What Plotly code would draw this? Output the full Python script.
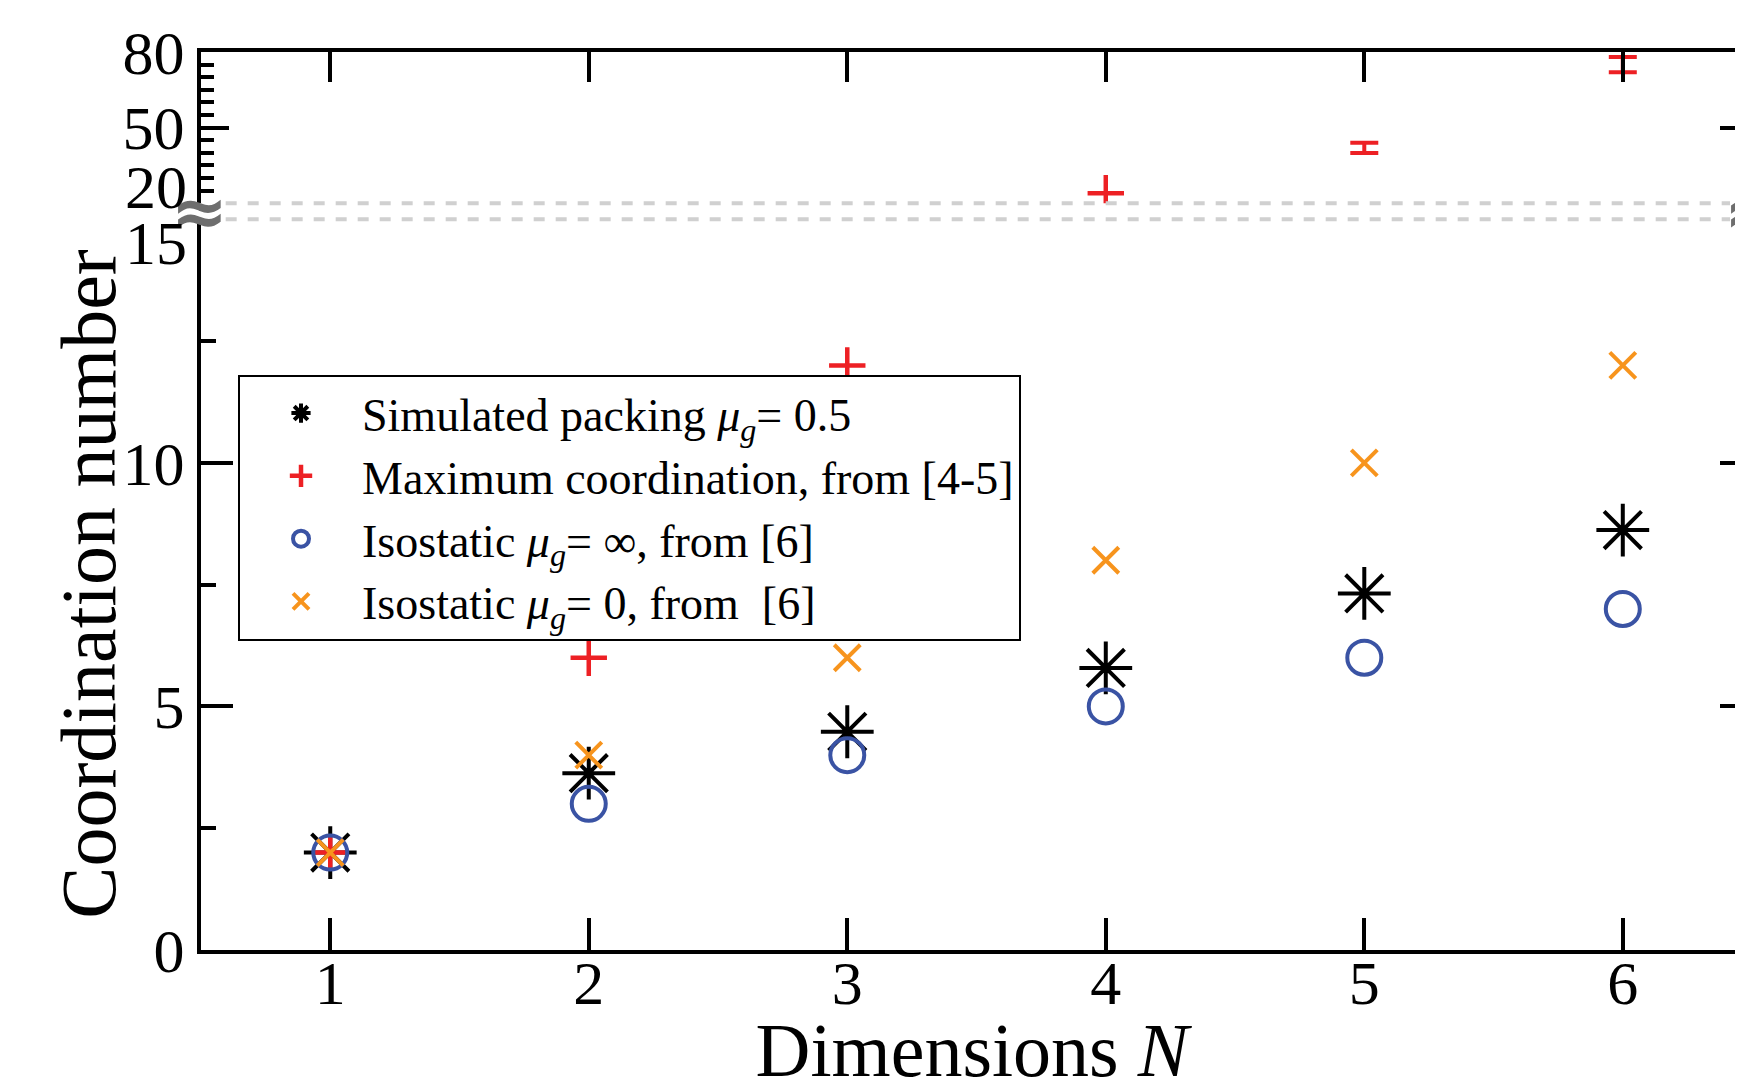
import plotly.graph_objects as go

# ---------------- data ----------------
dims = [1, 2, 3, 4, 5, 6]
sim_packing = [2.0, 3.63, 4.48, 5.79, 7.32, 8.62]          # simulated, mu_g = 0.5
max_coord_lo = [2, 6, 12, 24, 40, 72]                       # max coordination (lower bound)
max_coord_hi = [2, 6, 12, 24, 44, 78]                       # max coordination (upper bound)
iso_inf = [2, 3, 4, 5, 6, 7]                                # isostatic mu_g = inf
iso_zero = [2, 4, 6, 8, 10, 12]                             # isostatic mu_g = 0

lower_ticks = [0, 5, 10]
lower_ticktext = ["0", "5", "10"]
upper_ticks = [50, 80]
upper_ticktext = ["50", "80"]
upper_minor = [25, 30, 35, 40, 45, 55, 60, 65, 70, 75]

# ---------------- style ----------------
FONT = "Liberation Serif"
BLACK = "#000000"
RED = "#ED2024"
BLUE = "#3A53A4"
ORANGE = "#F7941D"
GRAY_DASH = "#D0D0D0"
GRAY_BRK = "#6E6E6E"

# page body has an 8px margin: size the figure so it ends at the window edge
W, H = 1735, 1084
M_L, M_R, M_T, M_B = 193, 0, 44, 142
LOW_TOP = 0.8137
UP_BOT = 0.8315
TICK_FS = 62

fig = go.Figure()

# lower panel traces
fig.add_trace(go.Scatter(
    x=dims, y=sim_packing, mode="markers", xaxis="x", yaxis="y",
    name="Simulated packing <i>μ<sub>g</sub></i>= 0.5",
    marker=dict(symbol="asterisk-open", size=44, color=BLACK,
                line=dict(color=BLACK, width=4)),
))
fig.add_trace(go.Scatter(
    x=dims, y=max_coord_lo, mode="markers", xaxis="x", yaxis="y",
    name="Maximum coordination, from [4-5]",
    marker=dict(symbol="cross-thin-open", size=26, color=RED,
                line=dict(color=RED, width=4.5)),
))
fig.add_trace(go.Scatter(
    x=dims, y=iso_inf, mode="markers", xaxis="x", yaxis="y",
    name="Isostatic <i>μ<sub>g</sub></i>= ∞, from [6]",
    marker=dict(symbol="circle-open", size=34, color=BLUE,
                line=dict(color=BLUE, width=4)),
))
fig.add_trace(go.Scatter(
    x=dims, y=iso_zero, mode="markers", xaxis="x", yaxis="y",
    name="Isostatic <i>μ<sub>g</sub></i>= 0, from  [6]",
    marker=dict(symbol="x-thin-open", size=26, color=ORANGE,
                line=dict(color=ORANGE, width=4)),
))

# upper panel: exact maxima as crosses, ranges as capped bars
exact_x = [n for n, lo, hi in zip(dims, max_coord_lo, max_coord_hi) if lo == hi]
exact_y = [lo for lo, hi in zip(max_coord_lo, max_coord_hi) if lo == hi]
rng_x = [n for n, lo, hi in zip(dims, max_coord_lo, max_coord_hi) if lo != hi]
rng_lo = [lo for lo, hi in zip(max_coord_lo, max_coord_hi) if lo != hi]
rng_len = [hi - lo for lo, hi in zip(max_coord_lo, max_coord_hi) if lo != hi]

fig.add_trace(go.Scatter(
    x=exact_x, y=exact_y, mode="markers", xaxis="x2", yaxis="y2", showlegend=False,
    marker=dict(symbol="cross-thin-open", size=26, color=RED,
                line=dict(color=RED, width=4.5)),
))
fig.add_trace(go.Scatter(
    x=rng_x, y=rng_lo, mode="markers", xaxis="x2", yaxis="y2", showlegend=False,
    marker=dict(size=0.1, color="rgba(0,0,0,0)"),
    error_y=dict(type="data", symmetric=False, array=rng_len,
                 arrayminus=[0] * len(rng_len), color=RED, thickness=4, width=14),
))

# invisible carriers for the right-hand tick axes
fig.add_trace(go.Scatter(x=dims, y=iso_inf, mode="markers", xaxis="x", yaxis="y3",
                         showlegend=False, hoverinfo="skip",
                         marker=dict(opacity=0)))
fig.add_trace(go.Scatter(x=dims, y=max_coord_hi, mode="markers", xaxis="x2", yaxis="y4",
                         showlegend=False, hoverinfo="skip",
                         marker=dict(opacity=0)))

axis_common = dict(showgrid=False, zeroline=False, tickcolor=BLACK,
                   tickfont=dict(family=FONT, size=TICK_FS, color=BLACK))

fig.update_layout(
    width=W, height=H,
    margin=dict(l=M_L, r=M_R, t=M_T, b=M_B),
    paper_bgcolor="white", plot_bgcolor="white",
    font=dict(family=FONT, color=BLACK),
    xaxis=dict(
        domain=[0, 1], range=[0.5, 6.465], anchor="y",
        tickmode="array", tickvals=dims, ticktext=[str(d) for d in dims],
        ticks="inside", ticklen=32, tickwidth=4, ticklabelstandoff=-24,
        showline=True, linewidth=4, linecolor=BLACK,
        title=dict(text="Dimensions <i>N</i>", font=dict(family=FONT, size=76), standoff=6),
        **axis_common,
    ),
    xaxis2=dict(
        matches="x", anchor="y2", side="top",
        tickmode="array", tickvals=dims,
        ticks="inside", ticklen=30, tickwidth=4, showticklabels=False,
        showline=True, linewidth=4, linecolor=BLACK,
        **axis_common,
    ),
    yaxis=dict(
        domain=[0, LOW_TOP], range=[0, 15], anchor="x",
        tickmode="array", tickvals=lower_ticks, ticktext=lower_ticktext,
        ticks="inside", ticklen=32, tickwidth=4,
        minor=dict(tickmode="linear", tick0=0, dtick=2.5, ticks="inside",
                   ticklen=15, tickwidth=4, tickcolor=BLACK),
        showline=True, linewidth=4, linecolor=BLACK,
        **axis_common,
    ),
    yaxis2=dict(
        domain=[UP_BOT, 1], range=[20, 80], anchor="x2",
        tickmode="array", tickvals=upper_ticks, ticktext=upper_ticktext,
        ticks="inside", ticklen=28, tickwidth=4,
        minor=dict(tickmode="array", tickvals=upper_minor, ticks="inside",
                   ticklen=13, tickwidth=4, tickcolor=BLACK),
        showline=True, linewidth=4, linecolor=BLACK,
        **axis_common,
    ),
    yaxis3=dict(
        overlaying="y", matches="y", side="right", anchor="free", position=1,
        tickmode="array", tickvals=lower_ticks,
        ticks="inside", ticklen=23, tickwidth=4, showticklabels=False,
        minor=dict(tickmode="linear", tick0=0, dtick=2.5, ticks="inside",
                   ticklen=7, tickwidth=4, tickcolor=BLACK),
        showline=False, **axis_common,
    ),
    yaxis4=dict(
        overlaying="y2", matches="y2", side="right", anchor="free", position=1,
        tickmode="array", tickvals=upper_ticks,
        ticks="inside", ticklen=23, tickwidth=4, showticklabels=False,
        minor=dict(tickmode="array", tickvals=upper_minor, ticks="inside",
                   ticklen=7, tickwidth=4, tickcolor=BLACK),
        showline=False, **axis_common,
    ),
    legend=dict(
        x=0.024, y=0.6407, xanchor="left", yanchor="top",
        bgcolor="white", bordercolor=BLACK, borderwidth=2,
        font=dict(family=FONT, size=46, color=BLACK),
        itemwidth=112, tracegroupgap=0,
    ),
    showlegend=True,
)

# y-axis title, centred on the lower panel
fig.add_annotation(x=0, y=0.5, xref="paper", yref="y domain", text="Coordination number",
                   textangle=-90, showarrow=False, xanchor="center", yanchor="middle",
                   xshift=-112, font=dict(family=FONT, size=78, color=BLACK))

# broken-axis indicators: dashed lines and ≈ marks
fig.add_shape(type="line", xref="paper", yref="y domain", x0=0.016, x1=0.9916, y0=1, y1=1,
              line=dict(color=GRAY_DASH, width=4, dash="11px,11px"))
fig.add_shape(type="line", xref="paper", yref="y2 domain", x0=0.016, x1=0.9916, y0=0, y1=0,
              line=dict(color=GRAY_DASH, width=4, dash="11px,11px"))
brk_y = (LOW_TOP + UP_BOT) / 2
for xp, xs in [(0, -2), (1, 9)]:
    fig.add_annotation(x=xp, y=brk_y, xref="paper", yref="paper", text="≈",
                       showarrow=False, xanchor="center", yanchor="middle", xshift=xs,
                       font=dict(family="DejaVu Sans", size=68, color=GRAY_BRK, weight="bold"))

# displaced tick labels at the break
fig.add_annotation(x=0, y=15, xref="paper", yref="y", text="15", showarrow=False,
                   xanchor="right", yanchor="middle", xshift=-12, yshift=-24,
                   font=dict(family=FONT, size=TICK_FS, color=BLACK))
fig.add_annotation(x=0, y=20, xref="paper", yref="y2", text="20", showarrow=False,
                   xanchor="right", yanchor="middle", xshift=-12, yshift=16,
                   font=dict(family=FONT, size=TICK_FS, color=BLACK))

fig.write_html("out.html")
